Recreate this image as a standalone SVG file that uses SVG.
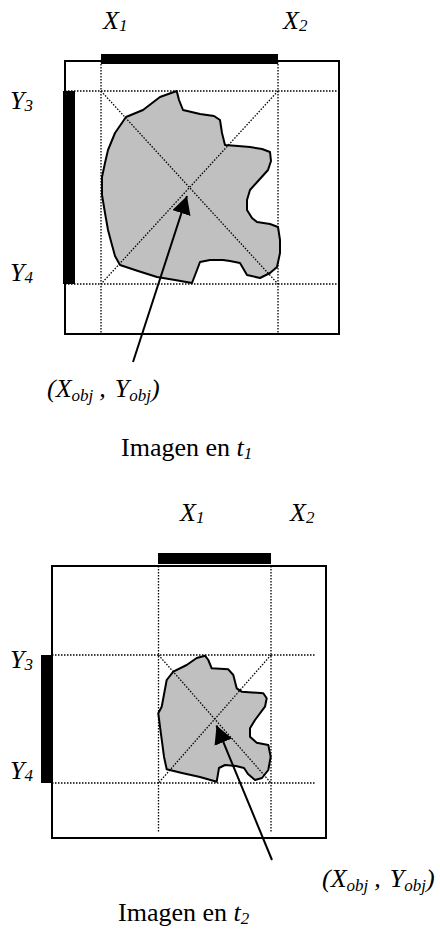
<svg xmlns="http://www.w3.org/2000/svg" width="440" height="934" viewBox="0 0 440 934">
<style>
.frame{fill:none;stroke:#000;stroke-width:2}
.bar{fill:#000}
.dot{fill:none;stroke:#000;stroke-width:1.3;stroke-dasharray:1.5 1.5}
.blob{fill:#c0c0c0;stroke:#000;stroke-width:2;stroke-linejoin:round}
.arrow{fill:none;stroke:#000;stroke-width:2;marker-end:url(#ah)}
text{font-family:"Liberation Serif","Times New Roman",serif;font-size:26px;fill:#000}
.it{font-style:italic}
.sub{font-size:17px}
</style>
<defs>
<marker id="ah" markerUnits="userSpaceOnUse" markerWidth="18" markerHeight="19" refX="18" refY="9.5" orient="auto">
<path d="M0,0 L18,9.5 L0,19 z" fill="#000"/>
</marker>
</defs>

<g id="image-t1">
<rect class="frame" x="65" y="61" width="274" height="273"/>
<rect class="bar" x="101" y="54" width="177" height="10"/>
<rect class="bar" x="63" y="91" width="12" height="193"/>
<line class="dot" x1="101" y1="61" x2="101" y2="334"/>
<line class="dot" x1="278" y1="61" x2="278" y2="334"/>
<line class="dot" x1="65" y1="91" x2="339" y2="91"/>
<line class="dot" x1="65" y1="284" x2="339" y2="284"/>
<path class="blob" d="M126,117 L143,110 L160,97 L176.7,91 L179,100 L183,110 L200,114 L214,116 L220,120 L222,133 L225,145 L238,146 L250,147 L262,149 L270,152 L271,161 L268,170 L259,180 L250,190 L247,200 L247,210 L252,218 L257,222 L270,224 L278,227 L280,240 L280,253 L277,267 L270,273 L260,278 L247,275 L240,263 L230,261 L223,260 L210,260 L200,262 L197,270 L192,283 L175,280 L157,277 L138,271 L120,265 L115,256 L112,245 L108,230 L105,213 L102,195 L102,177 L105,163 L108,150 L115,133 Z"/>
<line class="dot" x1="101" y1="91" x2="278" y2="284"/>
<line class="dot" x1="278" y1="91" x2="101" y2="284"/>
</g>

<g id="image-t2">
<rect class="frame" x="52" y="566" width="274" height="272"/>
<rect class="bar" x="158" y="553" width="113" height="11"/>
<rect class="bar" x="41" y="655" width="12" height="128"/>
<line class="dot" x1="158.5" y1="566" x2="158.5" y2="832"/>
<line class="dot" x1="271" y1="566" x2="271" y2="832"/>
<line class="dot" x1="52" y1="655" x2="316" y2="655"/>
<line class="dot" x1="52" y1="783" x2="316" y2="783"/>
<path class="blob" d="M173.3,671.7 L186.7,665 L196.7,658 L205,655.7 L208.3,660 L211.7,668.3 L228.3,669.3 L233.3,675 L236.7,688.3 L241.7,691.7 L263.3,693.3 L266.7,698.3 L265,706.7 L255,720 L250,728.3 L250,736.7 L256.7,742.7 L268.3,745 L270.7,756.7 L268.3,770 L262,778 L255,780 L248,774 L244,768 L236,766 L225,765 L219,768 L216.7,781.7 L200,777 L182,773 L166.7,769.3 L164,756.7 L160,726.7 L158.3,713.3 L161.7,706.7 L166.7,680 Z"/>
<line class="dot" x1="158.5" y1="655" x2="271" y2="783"/>
<line class="dot" x1="271" y1="655" x2="158.5" y2="783"/>
</g>

<g id="labels-t1">
<text class="it" x="103" y="29">X<tspan class="sub" dy="2">1</tspan></text>
<text class="it" x="283" y="29">X<tspan class="sub" dy="2">2</tspan></text>
<text class="it" x="10" y="109">Y<tspan class="sub" dy="2">3</tspan></text>
<text class="it" x="10" y="281">Y<tspan class="sub" dy="2">4</tspan></text>
<text class="it" x="47" y="397">(X<tspan class="sub" dy="4">obj</tspan><tspan dy="-4" dx="6">,</tspan><tspan dx="9">Y</tspan><tspan class="sub" dy="4">obj</tspan><tspan dy="-4">)</tspan></text>
<text x="121" y="456">Imagen en <tspan class="it">t</tspan><tspan class="it sub" dy="3">1</tspan></text>
</g>

<g id="labels-t2">
<text class="it" x="180" y="521">X<tspan class="sub" dy="2">1</tspan></text>
<text class="it" x="290" y="521">X<tspan class="sub" dy="2">2</tspan></text>
<text class="it" x="10" y="668">Y<tspan class="sub" dy="2">3</tspan></text>
<text class="it" x="10" y="779">Y<tspan class="sub" dy="2">4</tspan></text>
<text class="it" x="322" y="887">(X<tspan class="sub" dy="4">obj</tspan><tspan dy="-4" dx="6">,</tspan><tspan dx="9">Y</tspan><tspan class="sub" dy="4">obj</tspan><tspan dy="-4">)</tspan></text>
<text x="118" y="921">Imagen en <tspan class="it">t</tspan><tspan class="it sub" dy="3">2</tspan></text>
</g>

<g id="connectors">
<line class="arrow" x1="133" y1="362" x2="187" y2="196"/>
<line class="arrow" x1="272" y1="860" x2="216.5" y2="725.5"/>
</g>
</svg>
